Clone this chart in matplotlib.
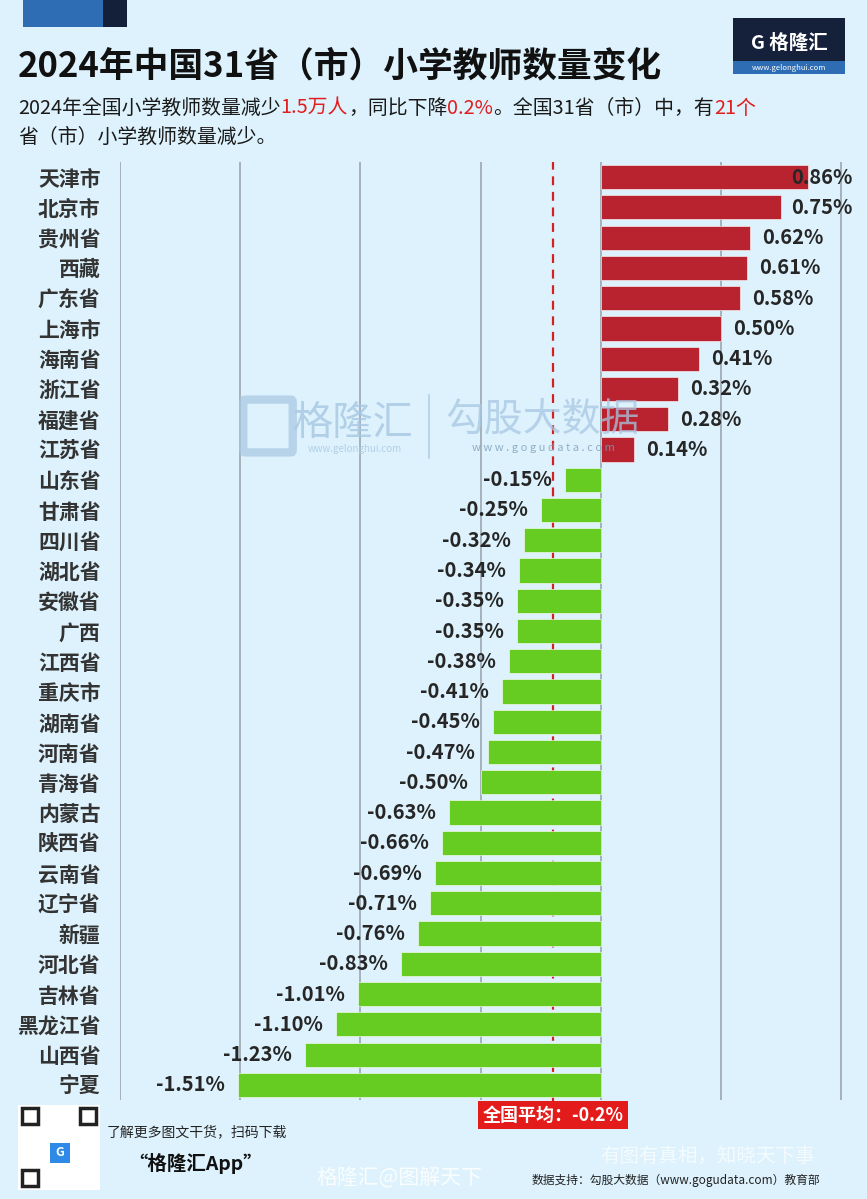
import matplotlib
matplotlib.use('Agg')
import matplotlib.pyplot as plt
from matplotlib.patches import Rectangle, FancyBboxPatch
import numpy as np

plt.rcParams['font.family'] = ['Noto Sans CJK SC', 'DejaVu Sans']

# data
provinces = ['天津市', '北京市', '贵州省', '西藏', '广东省', '上海市', '海南省', '浙江省',
             '福建省', '江苏省', '山东省', '甘肃省', '四川省', '湖北省', '安徽省', '广西',
             '江西省', '重庆市', '湖南省', '河南省', '青海省', '内蒙古', '陕西省', '云南省',
             '辽宁省', '新疆', '河北省', '吉林省', '黑龙江省', '山西省', '宁夏']
change = [0.86, 0.75, 0.62, 0.61, 0.58, 0.50, 0.41, 0.32, 0.28, 0.14,
          -0.15, -0.25, -0.32, -0.34, -0.35, -0.35, -0.38, -0.41, -0.45, -0.47,
          -0.50, -0.63, -0.66, -0.69, -0.71, -0.76, -0.83, -1.01, -1.10, -1.23, -1.51]
national_avg = -0.2
grid_ticks = [-2.0, -1.5, -1.0, -0.5, 0.0, 0.5, 1.0]

BG = '#DDF2FC'
RED = '#B8232F'
GREEN = '#66CC22'
W, H = 867, 1199

fig = plt.figure(figsize=(W / 100, H / 100), dpi=100, facecolor=BG)

def px(x, y):
    return x / W, 1 - y / H

# axes: x=-2.0 at px 120, 240.4 px per 1%
ax = fig.add_axes([120 / W, 1 - 1100 / H, (W - 120) / W, (1100 - 162) / H])
ax.set_facecolor(BG)
ax.set_xlim(-2.0, -2.0 + (W - 120) / 240.4)
ax.set_ylim(len(provinces) - 0.5, -0.5)
for s in ax.spines.values():
    s.set_visible(False)
ax.set_xticks(grid_ticks)
ax.set_xticklabels([])
ax.tick_params(axis='x', length=0)
ax.grid(axis='x', color='#9DA7B0', linewidth=1.2, zorder=0)
ax.set_axisbelow(True)

y = np.arange(len(provinces))
colors = [RED if v > 0 else GREEN for v in change]
ax.barh(y, change, height=0.8, color=colors, edgecolor='white', linewidth=0.4, zorder=2)
ax.set_yticks(y)
ax.set_yticklabels(provinces, fontsize=15, fontweight='bold', color='#333333')
ax.tick_params(axis='y', length=0, pad=14)

lab_kw = dict(va='center', fontsize=14.5, fontweight='bold', color='#262626', zorder=4)
xmax_lab = (853 - 601) / 240.4
for i, v in enumerate(change):
    lab = f'{v:.2f}%'
    if v > 0:
        if v + 0.05 + 0.265 > xmax_lab:
            ax.text(xmax_lab, i, lab, ha='right', **lab_kw)
        else:
            ax.text(v + 0.05, i, lab, ha='left', **lab_kw)
    else:
        ax.text(v - 0.055, i, lab, ha='right', **lab_kw)

ax.axvline(national_avg, ymin=-0.003, ymax=1, color='#D42020', linestyle=(0, (4, 3)), linewidth=1.6,
           zorder=1.5, clip_on=False)
ax.text(national_avg, -0.006, '全国平均：-0.2%', transform=ax.get_xaxis_transform(), ha='center', va='top',
        fontsize=13, fontweight='bold', color='white', zorder=5, clip_on=False,
        bbox=dict(boxstyle='square,pad=0.25', facecolor='#E31B1B', edgecolor='none'))

# header decorations
fig.patches.append(Rectangle(px(23, 27), 80 / W, 27 / H, transform=fig.transFigure, facecolor='#2E6DB4', edgecolor='none'))
fig.patches.append(Rectangle(px(103, 27), 24 / W, 27 / H, transform=fig.transFigure, facecolor='#14203A', edgecolor='none'))

fig.text(*px(18, 66), '2024年中国31省（市）小学教师数量变化', fontsize=25, fontweight='bold', color='#111111', va='center', ha='left')

# logo top right
fig.patches.append(Rectangle(px(733, 74), 112 / W, 56 / H, transform=fig.transFigure, facecolor='#15203A', edgecolor='none'))
fig.patches.append(Rectangle(px(733, 74), 112 / W, 13 / H, transform=fig.transFigure, facecolor='#2E6DB4', edgecolor='none'))
fig.text(*px(789, 43), 'G 格隆汇', fontsize=14, fontweight='bold', color='white', ha='center', va='center')
fig.text(*px(789, 68), 'www.gelonghui.com', fontsize=5.5, color='white', ha='center', va='center')

# subtitle with coloured pieces
renderer = fig.canvas.get_renderer()

def rich_line(x, y, pieces, size):
    xf, yf = px(x, y)
    for s, c in pieces:
        t = fig.text(xf, yf, s, color=c, fontsize=size, ha='left', va='center')
        xf += t.get_window_extent(renderer).width / W

dark = '#1A1A1A'
rich_line(18, 108, [('2024年全国小学教师数量减少', dark), ('1.5万人', '#E01E1E'), ('，同比下降', dark),
                    ('0.2%', '#E01E1E'), ('。全国31省（市）中，有', dark), ('21个', '#E01E1E')], 14.3)
rich_line(18, 137, [('省（市）小学教师数量减少。', dark)], 14.3)

# watermark
wm = '#A8C7E3'
fig.patches.append(FancyBboxPatch(px(245, 450), 46 / W, 48 / H, boxstyle='round,pad=0.002', transform=fig.transFigure,
                                  facecolor='none', edgecolor=wm, linewidth=6, alpha=0.7, zorder=6))
fig.text(*px(353, 423), '格隆汇', fontsize=29, color=wm, alpha=0.8, ha='center', va='center', zorder=6)
fig.text(*px(355, 449), 'www.gelonghui.com', fontsize=7, color=wm, alpha=0.8, ha='center', va='center', zorder=6)
fig.lines.append(plt.Line2D([429 / W, 429 / W], [1 - 395 / H, 1 - 458 / H], transform=fig.transFigure, color=wm, linewidth=1.2, alpha=0.8))
fig.text(*px(543, 420), '勾股大数据', fontsize=28, color=wm, alpha=0.75, ha='center', va='center', zorder=6)
fig.text(*px(543, 448), 'w w w . g o g u d a t a . c o m', fontsize=8, color='#7F9DB8', alpha=0.8, ha='center', va='center', zorder=6)

# footer: QR placeholder
fig.patches.append(Rectangle(px(18, 1190), 82 / W, 85 / H, transform=fig.transFigure, facecolor='white', edgecolor='none'))
for qx, qy in [(22, 1124), (80, 1124), (22, 1186)]:
    fig.patches.append(Rectangle(px(qx, qy), 16 / W, 16 / H, transform=fig.transFigure, facecolor='none', edgecolor='#222222', linewidth=2.5))
fig.patches.append(Rectangle(px(50, 1163), 20 / W, 20 / H, transform=fig.transFigure, facecolor='#2E8AE6', edgecolor='none'))
fig.text(*px(60, 1153), 'G', fontsize=9, fontweight='bold', color='white', ha='center', va='center')

fig.text(*px(107, 1132), '了解更多图文干货，扫码下载', fontsize=10, style='italic', color='#222222', va='center')
fig.text(*px(128, 1163), '“格隆汇App”', fontsize=14, fontweight='bold', style='italic', color='#111111', va='center')

fig.text(*px(316, 1178), '格隆汇@图解天下', fontsize=15, color='white', alpha=0.85, va='center', zorder=6)
fig.text(*px(600, 1157), '有图有真相，知晓天下事', fontsize=14, color='white', alpha=0.7, va='center', zorder=6)
fig.text(*px(532, 1180), '数据支持：勾股大数据（www.gogudata.com）教育部', fontsize=8.5, color='#222222', va='center', zorder=7)

fig.savefig('out.png', dpi=100, facecolor=BG)
